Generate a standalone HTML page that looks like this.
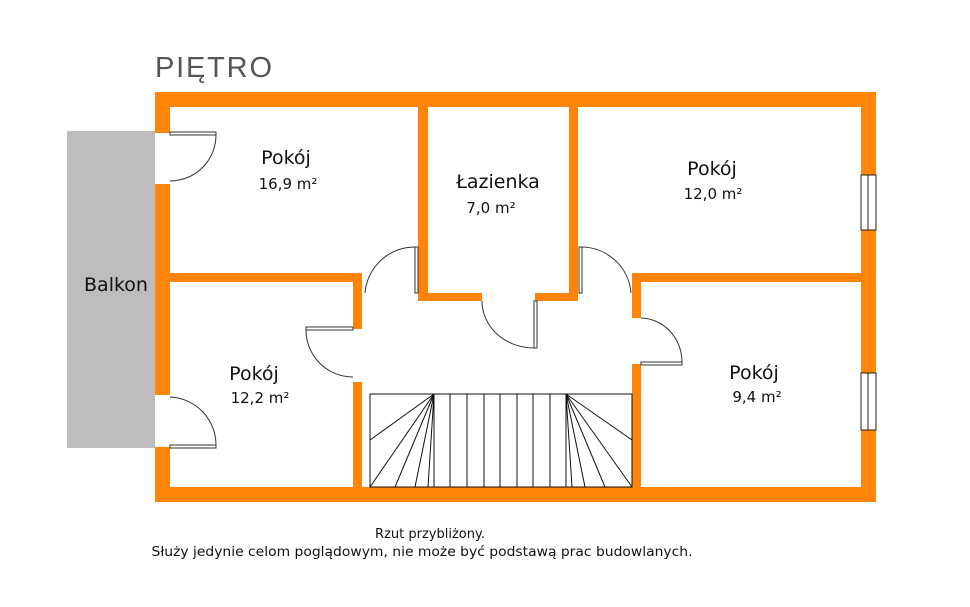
<!DOCTYPE html>
<html><head><meta charset="utf-8"><style>html,body{margin:0;padding:0;background:#fff}</style></head><body>
<svg width="970" height="602" viewBox="0 0 970 602" xmlns="http://www.w3.org/2000/svg" font-family="'DejaVu Sans','Liberation Sans',sans-serif">
<rect width="970" height="602" fill="#fff"/>
<text x="155" y="77" font-size="29" font-family="'Liberation Sans',sans-serif" fill="#555" textLength="117" lengthAdjust="spacing">PIĘTRO</text>
<rect x="67" y="131" width="88" height="317" fill="#bdbdbd"/>
<g fill="#ff8407">
<rect x="155" y="92" width="721" height="15"/>
<rect x="155" y="487" width="721" height="15"/>
<rect x="861" y="92" width="15" height="410"/>
<rect x="155" y="92" width="15" height="41"/>
<rect x="155" y="184" width="15" height="211"/>
<rect x="155" y="447" width="15" height="55"/>
<rect x="170" y="273" width="192" height="9"/>
<rect x="353" y="273" width="9" height="56"/>
<rect x="353" y="382" width="9" height="105"/>
<rect x="418" y="107" width="10" height="194"/>
<rect x="418" y="293" width="64" height="8"/>
<rect x="535" y="293" width="43" height="8"/>
<rect x="569" y="107" width="9" height="194"/>
<rect x="632" y="273" width="229" height="9"/>
<rect x="632" y="273" width="9" height="45"/>
<rect x="632" y="364" width="9" height="123"/>
</g>
<g fill="#fff" stroke="#222" stroke-width="1">
<rect x="861" y="175" width="15" height="55"/><line x1="868" y1="175" x2="868" y2="230"/>
<rect x="861" y="373" width="15" height="57"/><line x1="868" y1="373" x2="868" y2="430"/>
</g>
<g fill="none" stroke="#333" stroke-width="1">
<rect x="170" y="132" width="46" height="3"/><path d="M216 135 A46 46 0 0 1 170 181"/>
<rect x="170" y="445" width="46" height="3"/><path d="M216 445 A48 48 0 0 0 170 397"/>
<rect x="306" y="327" width="47" height="3"/><path d="M306 330 A47 47 0 0 0 353 377"/>
<rect x="415" y="247" width="3" height="46"/><path d="M415 247 A50 50 0 0 0 365 293"/>
<rect x="579" y="247" width="3" height="46"/><path d="M582 247 A50 50 0 0 1 631 293"/>
<rect x="534" y="301" width="3" height="47"/><path d="M534 348 A52 47 0 0 1 482 301"/>
<rect x="641" y="362" width="41" height="3"/><path d="M682 362 A42 44 0 0 0 641 318"/>
</g>
<g fill="none" stroke="#111" stroke-width="1">
<rect x="370" y="394" width="262" height="93"/>
<path d="M434 394V487M450 394V487M467 394V487M484 394V487M500 394V487M517 394V487M533 394V487M550 394V487M566 394V487"/>
<path d="M434 394L370 440M434 394L370 487M434 394L395 487M434 394L415 487M434 394L428 487"/>
<path d="M566 394L632 440M566 394L632 487M566 394L605 487M566 394L585 487M566 394L572 487"/>
</g>
<g fill="#111" text-anchor="middle">
<text x="286" y="164" font-size="19">Pokój</text>
<text x="288" y="189" font-size="15">16,9 m²</text>
<text x="498" y="188" font-size="19">Łazienka</text>
<text x="491" y="213" font-size="15">7,0 m²</text>
<text x="712" y="175" font-size="19">Pokój</text>
<text x="713" y="199" font-size="15">12,0 m²</text>
<text x="754" y="379" font-size="19">Pokój</text>
<text x="757" y="402" font-size="15">9,4 m²</text>
<text x="254" y="380" font-size="19">Pokój</text>
<text x="260" y="403" font-size="15">12,2 m²</text>
<text x="116" y="291" font-size="19">Balkon</text>
<text x="430" y="538" font-size="13">Rzut przybliżony.</text>
<text x="422" y="556" font-size="13" textLength="541" lengthAdjust="spacingAndGlyphs">Służy jedynie celom poglądowym, nie może być podstawą prac budowlanych.</text>
</g>
</svg>
</body></html>
